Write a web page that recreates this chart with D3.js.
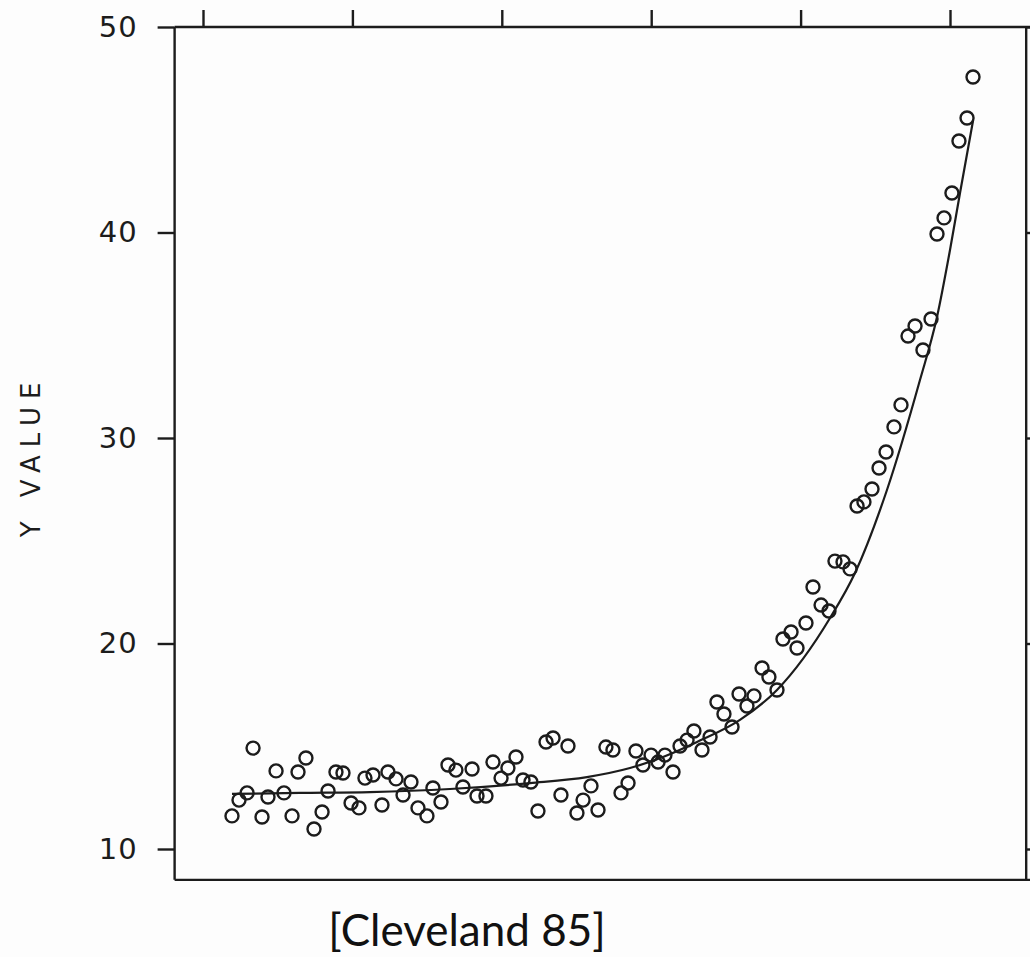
<!DOCTYPE html>
<html>
<head>
<meta charset="utf-8">
<script src="https://cdn.jsdelivr.net/npm/d3@7"></script>
<style>
  html, body { margin: 0; padding: 0; background: #fdfdfd; }
  svg { display: block; }
</style>
</head>
<body>
<svg id="chart" width="1030" height="957"></svg>
<script>
// Observations (x in tick units along the unlabeled horizontal axis)
const xValues = [
  1.194, 1.241, 1.295, 1.335, 1.395, 1.435, 1.489, 1.542, 1.596, 1.636,
  1.689, 1.743, 1.797, 1.837, 1.890, 1.937, 1.991, 2.044, 2.084, 2.138,
  2.198, 2.238, 2.292, 2.339, 2.392, 2.439, 2.499, 2.539, 2.593, 2.640,
  2.693, 2.740, 2.801, 2.834, 2.894, 2.941, 2.995, 3.041, 3.095, 3.142,
  3.195, 3.242, 3.296, 3.343, 3.396, 3.443, 3.503, 3.544, 3.597, 3.644,
  3.697, 3.744, 3.798, 3.845, 3.898, 3.945, 3.999, 4.046, 4.092, 4.146,
  4.193, 4.240, 4.286, 4.340, 4.394, 4.440, 4.487, 4.541, 4.588, 4.641,
  4.688, 4.742, 4.788, 4.842, 4.882, 4.936, 4.976, 5.036, 5.083, 5.137,
  5.190, 5.230, 5.284, 5.331, 5.378, 5.424, 5.478, 5.525, 5.572, 5.625,
  5.672, 5.719, 5.766, 5.819, 5.873, 5.913, 5.960, 6.013, 6.060, 6.114,
  6.154
];
const yValues = [
  11.61, 12.38, 12.73, 14.91, 11.56, 12.53, 13.80, 12.73, 11.61, 13.75,
  14.43, 10.97, 11.80, 12.82, 13.75, 13.70, 12.24, 12.00, 13.45, 13.60,
  12.14, 13.75, 13.41, 12.63, 13.26, 12.00, 11.61, 12.97, 12.29, 14.09,
  13.84, 13.02, 13.89, 12.58, 12.58, 14.23, 13.45, 13.94, 14.48, 13.36,
  13.26, 11.85, 15.21, 15.40, 12.63, 15.01, 11.75, 12.38, 13.07, 11.90,
  14.96, 14.82, 12.73, 13.21, 14.77, 14.09, 14.57, 14.23, 14.57, 13.75,
  15.01, 15.30, 15.74, 14.82, 15.45, 17.15, 16.57, 15.94, 17.54, 16.96,
  17.45, 18.81, 18.37, 17.74, 20.22, 20.56, 19.78, 21.00, 22.75, 21.87,
  21.58, 24.01, 23.97, 23.63, 26.69, 26.89, 27.52, 28.54, 29.32, 30.54,
  31.61, 34.96, 35.45, 34.28, 35.79, 39.93, 40.71, 41.92, 44.45, 45.57,
  47.57
];

// Fitted curve, sampled along its length
const fitX = [1.194, 1.649, 2.118, 2.653, 3.189, 3.570, 3.858, 4.079, 4.307, 4.594,
              4.842, 5.197, 5.364, 5.578, 5.799, 5.913, 6.000, 6.067, 6.154];
const fitY = [12.68, 12.73, 12.77, 12.92, 13.21, 13.50, 13.94, 14.48, 15.21, 16.28,
              17.74, 21.24, 23.43, 27.47, 32.82, 35.89, 39.15, 41.92, 45.43];

// Axis ticks
const yTicks = [10, 20, 30, 40, 50];
const yTickLabels = ["10", "20", "30", "40", "50"];
const xTicks = [1, 2, 3, 4, 5, 6];

// Extent of the plotting frame, in data units
const xFrame = [0.81, 6.51];
const yFrame = [8.5, 50];

const ink = "#1c1c1c";
const svg = d3.select("#chart");

const x = d3.scaleLinear().domain([1, 6]).range([203, 950]);
const y = d3.scaleLinear().domain([10, 50]).range([849, 27]);

const frameLeft = x(xFrame[0]), frameRight = x(xFrame[1]);
const frameTop = y(yFrame[1]), frameBottom = y(yFrame[0]);

// Frame
const frame = svg.append("g").attr("stroke", ink).attr("stroke-width", 2.4).attr("fill", "none");
frame.append("line").attr("x1", frameLeft).attr("x2", 1032).attr("y1", frameTop).attr("y2", frameTop);
frame.append("line").attr("x1", frameLeft).attr("x2", 1032).attr("y1", frameBottom).attr("y2", frameBottom);
frame.append("line").attr("x1", frameLeft).attr("x2", frameLeft).attr("y1", frameTop).attr("y2", frameBottom);
frame.append("line").attr("x1", frameRight).attr("x2", frameRight).attr("y1", frameTop).attr("y2", frameBottom);

// Left axis with labels
const yAxis = d3.axisLeft(y)
  .tickValues(yTicks)
  .tickFormat((d, i) => yTickLabels[i])
  .tickSize(17)
  .tickPadding(20);
const gy = svg.append("g").attr("transform", `translate(${frameLeft},0)`).call(yAxis);
gy.select(".domain").remove();
gy.selectAll(".tick line").attr("stroke", ink).attr("stroke-width", 2.4);
gy.selectAll(".tick text")
  .attr("fill", ink)
  .attr("font-family", "'DejaVu Sans', sans-serif")
  .attr("font-weight", 400)
  .attr("font-size", 29)
  .attr("letter-spacing", 1);

// Right axis ticks (no labels)
const gyr = svg.append("g").attr("transform", `translate(${frameRight},0)`)
  .call(d3.axisRight(y).tickValues(yTicks).tickFormat("").tickSize(16));
gyr.select(".domain").remove();
gyr.selectAll(".tick line").attr("stroke", ink).attr("stroke-width", 2.4);

// Top axis ticks (no labels)
const gx = svg.append("g").attr("transform", `translate(0,${frameTop})`)
  .call(d3.axisTop(x).tickValues(xTicks).tickFormat("").tickSize(17));
gx.select(".domain").remove();
gx.selectAll(".tick line").attr("stroke", ink).attr("stroke-width", 2.4);

// Fitted curve
const fit = fitX.map((d, i) => [d, fitY[i]]);
svg.append("path")
  .datum(fit)
  .attr("fill", "none")
  .attr("stroke", ink)
  .attr("stroke-width", 2.2)
  .attr("d", d3.line().x(d => x(d[0])).y(d => y(d[1])).curve(d3.curveMonotoneX));

// Data points
const pts = xValues.map((d, i) => ({ x: d, y: yValues[i] }));
svg.append("g")
  .selectAll("circle")
  .data(pts)
  .join("circle")
  .attr("cx", d => x(d.x))
  .attr("cy", d => y(d.y))
  .attr("r", 6.5)
  .attr("fill", "none")
  .attr("stroke", ink)
  .attr("stroke-width", 2.4);

// Vertical axis title
svg.append("text")
  .attr("transform", `translate(40,456) rotate(-90)`)
  .attr("text-anchor", "middle")
  .attr("fill", ink)
  .attr("font-family", "'DejaVu Sans', sans-serif")
  .attr("font-weight", 400)
  .attr("font-size", 26)
  .attr("letter-spacing", 8)
  .text("Y VALUE");

// Citation
svg.append("text")
  .attr("x", 467)
  .attr("y", 946)
  .attr("text-anchor", "middle")
  .attr("fill", "#111")
  .attr("font-family", "Lato, 'Noto Sans', sans-serif")
  .attr("font-size", 44)
  .text("[Cleveland 85]");
</script>
</body>
</html>
